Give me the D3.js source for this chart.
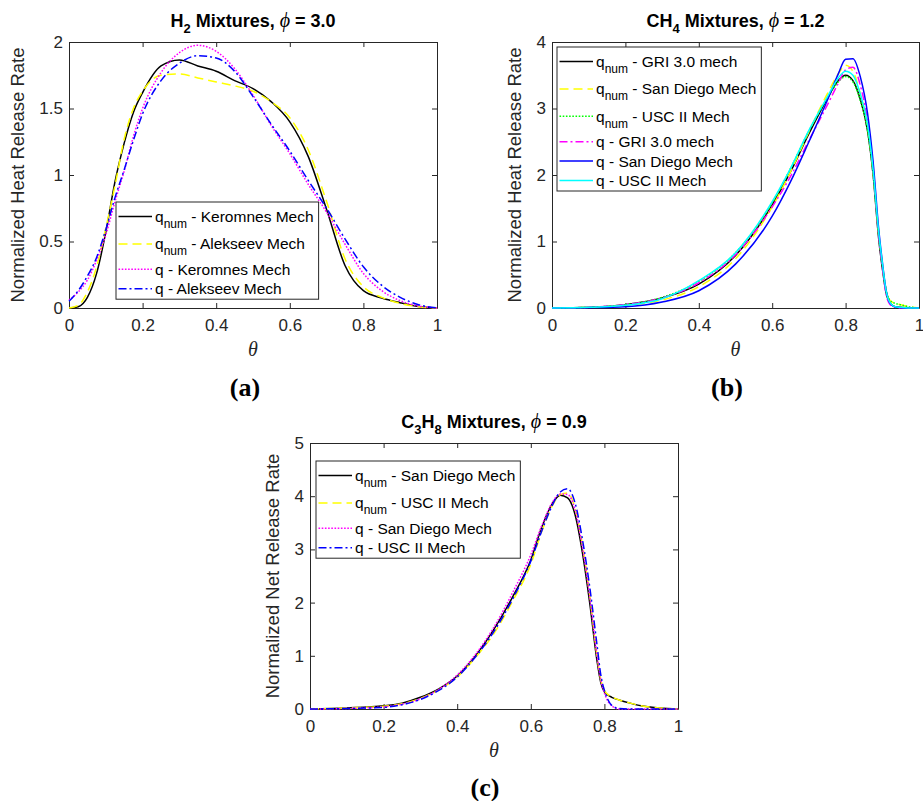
<!DOCTYPE html>
<html lang="en">
<head>
<meta charset="UTF-8">
<title>Normalized heat release rate profiles</title>
<script src="https://d3js.org/d3.v7.min.js"></script>
<style>
  body { margin: 0; background: #fff; }
  svg { display: block; font-family: "Liberation Sans", Arial, sans-serif; }
  .axis path, .axis line { stroke: #262626; stroke-width: 1; }
  .axis text { font-size: 17px; fill: #262626; font-family: "Liberation Sans", Arial, sans-serif; }
  .ylabel { font-size: 18.5px; fill: #262626; }
  .title { font-size: 18px; font-weight: bold; fill: #000; }
  .legend text { font-size: 15.5px; fill: #000; }
  .panel-tag { font-family: "Liberation Serif", "Times New Roman", serif; font-weight: bold; font-size: 26px; }
</style>
</head>
<body>
<svg id="chart" width="923" height="801"></svg>
<script>
// ---------------- data ----------------
const xTicks = [0, 0.2, 0.4, 0.6, 0.8, 1];

// (a) H2 mixtures, phi = 3.0
const thetaA = [0, 0.025, 0.05, 0.075, 0.1, 0.125, 0.15, 0.175, 0.2, 0.25, 0.3, 0.35, 0.4,
                0.45, 0.5, 0.55, 0.6, 0.65, 0.7, 0.75, 0.8, 0.85, 0.9, 0.95, 1];
const h2NumKeromnes = [0, 0.01, 0.08, 0.26, 0.57, 0.95, 1.24, 1.47, 1.62, 1.82, 1.865, 1.82, 1.78,
                       1.71, 1.65, 1.55, 1.40, 1.14, 0.74, 0.32, 0.13, 0.075, 0.04, 0.012, 0];
const h2NumAlekseev = [0, 0.02, 0.12, 0.31, 0.60, 0.92, 1.27, 1.50, 1.63, 1.75, 1.76, 1.73, 1.70,
                       1.67, 1.63, 1.55, 1.43, 1.19, 0.80, 0.37, 0.16, 0.08, 0.035, 0.01, 0];
const h2QKeromnes = [0.06, 0.12, 0.21, 0.36, 0.55, 0.80, 1.03, 1.29, 1.50, 1.77, 1.92, 1.975, 1.93,
                     1.80, 1.60, 1.37, 1.16, 0.93, 0.72, 0.48, 0.26, 0.13, 0.055, 0.015, 0];
const h2QAlekseev = [0.05, 0.13, 0.24, 0.38, 0.59, 0.83, 1.04, 1.26, 1.46, 1.71, 1.84, 1.897, 1.88,
                     1.78, 1.59, 1.38, 1.18, 0.96, 0.75, 0.52, 0.31, 0.17, 0.08, 0.025, 0];
const h2Labels = ["q_num - Keromnes Mech", "q_num - Alekseev Mech", "q - Keromnes Mech", "q - Alekseev Mech"];

// (b) CH4 mixtures, phi = 1.2
const thetaB = [0, 0.1, 0.2, 0.3, 0.4, 0.5, 0.6, 0.65, 0.7, 0.75, 0.78, 0.8, 0.82, 0.84,
                0.86, 0.875, 0.89, 0.9, 0.91, 0.92, 0.935, 0.95, 0.97, 1];
const ch4NumGri = [0, 0.01, 0.05, 0.15, 0.36, 0.79, 1.55, 2.05, 2.62, 3.15, 3.42, 3.50, 3.42, 3.14,
                   2.66, 2.0, 1.05, 0.60, 0.24, 0.08, 0.02, 0.01, 0.005, 0];
const ch4NumSanDiego = [0, 0.01, 0.04, 0.12, 0.32, 0.74, 1.52, 2.05, 2.65, 3.22, 3.52, 3.65, 3.56, 3.22,
                        2.72, 2.05, 1.12, 0.66, 0.28, 0.12, 0.07, 0.05, 0.02, 0];
const ch4NumUsc = [0, 0.01, 0.05, 0.16, 0.40, 0.83, 1.58, 2.10, 2.66, 3.15, 3.40, 3.48, 3.40, 3.12,
                   2.66, 2.02, 1.10, 0.65, 0.28, 0.12, 0.07, 0.05, 0.02, 0];
const ch4QGri = [0, 0.01, 0.05, 0.15, 0.38, 0.80, 1.52, 1.98, 2.52, 3.05, 3.38, 3.58, 3.62, 3.35,
                 2.80, 2.10, 1.10, 0.62, 0.22, 0.06, 0.01, 0, 0, 0];
const ch4QSanDiego = [0, 0.005, 0.02, 0.09, 0.26, 0.66, 1.38, 1.90, 2.50, 3.12, 3.52, 3.74, 3.75, 3.48,
                      2.92, 2.20, 1.20, 0.70, 0.28, 0.08, 0.015, 0.005, 0, 0];
const ch4QUsc = [0, 0.01, 0.04, 0.14, 0.41, 0.83, 1.60, 2.10, 2.67, 3.17, 3.46, 3.56, 3.50, 3.22,
                 2.75, 2.08, 1.15, 0.68, 0.27, 0.09, 0.02, 0.01, 0, 0];
const ch4Labels = ["q_num - GRI 3.0 mech", "q_num - San Diego Mech", "q_num - USC II Mech",
                   "q - GRI 3.0 mech", "q - San Diego Mech", "q - USC II Mech"];

// (c) C3H8 mixtures, phi = 0.9
const thetaC = [0, 0.1, 0.2, 0.25, 0.3, 0.35, 0.4, 0.45, 0.5, 0.55, 0.6, 0.63, 0.66, 0.68, 0.7,
                0.72, 0.74, 0.76, 0.78, 0.79, 0.8, 0.81, 0.82, 0.84, 0.87, 0.9, 0.95, 1];
const c3h8NumSanDiego = [0, 0.02, 0.06, 0.11, 0.22, 0.38, 0.62, 1.00, 1.50, 2.10, 2.80, 3.42, 3.88, 4.02, 3.97,
                         3.66, 2.95, 2.00, 0.90, 0.50, 0.32, 0.26, 0.22, 0.17, 0.11, 0.06, 0.02, 0];
const c3h8NumUsc = [0, 0.02, 0.05, 0.10, 0.20, 0.36, 0.60, 0.97, 1.42, 2.02, 2.72, 3.34, 3.84, 4.03, 4.06,
                    3.78, 3.10, 2.15, 1.00, 0.56, 0.35, 0.27, 0.23, 0.17, 0.11, 0.06, 0.02, 0];
const c3h8QSanDiego = [0, 0.01, 0.04, 0.09, 0.19, 0.37, 0.64, 1.03, 1.54, 2.18, 2.90, 3.45, 3.90, 4.04, 4.03,
                       3.75, 3.05, 2.12, 1.00, 0.55, 0.30, 0.14, 0.06, 0, 0, 0, 0, 0];
const c3h8QUsc = [0, 0.01, 0.03, 0.08, 0.18, 0.35, 0.60, 0.98, 1.46, 2.06, 2.78, 3.35, 3.85, 4.08, 4.14,
                  3.88, 3.20, 2.30, 1.20, 0.65, 0.35, 0.17, 0.07, 0.01, 0, 0, 0, 0];
const c3h8Labels = ["q_num - San Diego Mech", "q_num - USC II Mech", "q - San Diego Mech", "q - USC II Mech"];

// ---------------- styles ----------------
const SOLID = null, DASHED = "9,5", DOTTED = "1.6,1.6", DASHDOT = "8,3,2,3";

const svg = d3.select("#chart");
const fmt = d3.format("~g");

const panels = [
  {
    tag: "(a)", tagX: 245, tagY: 396,
    title: ["H", "2", " Mixtures, ", "3.0"],
    left: 69, right: 437, top: 42, bottom: 308,
    yMax: 2, yTicks: [0, 0.5, 1, 1.5, 2], yLabel: "Normalized Heat Release Rate", yLabelX: 18,
    legendX: 116, legendY: 202,
    theta: thetaA,
    series: [
      { values: h2NumKeromnes, label: h2Labels[0], color: "#000000", dash: SOLID },
      { values: h2NumAlekseev, label: h2Labels[1], color: "#ffff00", dash: DASHED },
      { values: h2QKeromnes, label: h2Labels[2], color: "#ff00ff", dash: DOTTED },
      { values: h2QAlekseev, label: h2Labels[3], color: "#0000ff", dash: DASHDOT }
    ]
  },
  {
    tag: "(b)", tagX: 727, tagY: 396,
    title: ["CH", "4", " Mixtures, ", "1.2"],
    left: 552, right: 919, top: 42, bottom: 308,
    yMax: 4, yTicks: [0, 1, 2, 3, 4], yLabel: "Normalized Heat Release Rate", yLabelX: 515,
    legendX: 557, legendY: 47,
    theta: thetaB,
    series: [
      { values: ch4NumGri, label: ch4Labels[0], color: "#000000", dash: SOLID },
      { values: ch4NumSanDiego, label: ch4Labels[1], color: "#ffff00", dash: DASHED },
      { values: ch4NumUsc, label: ch4Labels[2], color: "#00ff00", dash: DOTTED },
      { values: ch4QGri, label: ch4Labels[3], color: "#ff00ff", dash: DASHDOT },
      { values: ch4QSanDiego, label: ch4Labels[4], color: "#0000ff", dash: SOLID },
      { values: ch4QUsc, label: ch4Labels[5], color: "#00ffff", dash: SOLID }
    ]
  },
  {
    tag: "(c)", tagX: 485, tagY: 796,
    title: ["C", "3", "H", "8", " Mixtures, ", "0.9"],
    left: 310, right: 678, top: 443, bottom: 709,
    yMax: 5, yTicks: [0, 1, 2, 3, 4, 5], yLabel: "Normalized Net Release Rate", yLabelX: 273,
    legendX: 316, legendY: 461,
    theta: thetaC,
    series: [
      { values: c3h8NumSanDiego, label: c3h8Labels[0], color: "#000000", dash: SOLID },
      { values: c3h8NumUsc, label: c3h8Labels[1], color: "#ffff00", dash: DASHED },
      { values: c3h8QSanDiego, label: c3h8Labels[2], color: "#ff00ff", dash: DOTTED },
      { values: c3h8QUsc, label: c3h8Labels[3], color: "#0000ff", dash: DASHDOT }
    ]
  }
];

panels.forEach(drawPanel);

function drawPanel(p) {
  const g = svg.append("g");
  const x = d3.scaleLinear().domain([0, 1]).range([p.left, p.right]);
  const y = d3.scaleLinear().domain([0, p.yMax]).range([p.bottom, p.top]);

  // axes box, ticks pointing inward on all four sides
  g.append("g").attr("class", "axis").attr("transform", `translate(0,${p.bottom})`)
    .call(d3.axisBottom(x).tickValues(xTicks).tickFormat(fmt).tickSizeInner(-5).tickSizeOuter(0).tickPadding(11));
  g.append("g").attr("class", "axis").attr("transform", `translate(0,${p.top})`)
    .call(d3.axisTop(x).tickValues(xTicks).tickFormat("").tickSizeInner(-5).tickSizeOuter(0));
  g.append("g").attr("class", "axis").attr("transform", `translate(${p.left},0)`)
    .call(d3.axisLeft(y).tickValues(p.yTicks).tickFormat(fmt).tickSizeInner(-5).tickSizeOuter(0).tickPadding(6));
  g.append("g").attr("class", "axis").attr("transform", `translate(${p.right},0)`)
    .call(d3.axisRight(y).tickValues(p.yTicks).tickFormat("").tickSizeInner(-5).tickSizeOuter(0));
  g.selectAll(".axis .domain").attr("stroke", "#262626");

  // curves
  const line = d3.line()
    .x((d, i) => x(p.theta[i]))
    .y(d => y(d))
    .curve(d3.curveMonotoneX);

  p.series.forEach(s => {
    g.append("path")
      .datum(s.values)
      .attr("d", line)
      .attr("fill", "none")
      .attr("stroke", s.color)
      .attr("stroke-width", 1.5)
      .attr("stroke-dasharray", s.dash);
  });

  // title with subscripts
  const title = g.append("text").attr("class", "title")
    .attr("x", (p.left + p.right) / 2)
    .attr("y", p.top - 15)
    .attr("text-anchor", "middle");
  const parts = p.title;
  for (let i = 0; i < parts.length - 1; i++) {
    const isSub = /^\d$/.test(parts[i]);
    const prevSub = i > 0 && /^\d$/.test(parts[i - 1]);
    const t = title.append("tspan").text(parts[i]);
    if (isSub) t.attr("dy", 6).style("font-size", "13px");
    else if (prevSub) t.attr("dy", -6);
  }
  title.append("tspan")
    .style("font-family", "'Liberation Serif', serif").style("font-style", "italic").style("font-weight", "normal")
    .style("font-size", "20px")
    .text("\u03d5");
  title.append("tspan").text(" = " + parts[parts.length - 1]);

  // axis labels
  g.append("text").attr("class", "ylabel")
    .attr("transform", `translate(${p.yLabelX},${(p.top + p.bottom) / 2}) rotate(-90)`)
    .attr("text-anchor", "middle").attr("dy", "0.35em")
    .text(p.yLabel);
  g.append("text")
    .attr("x", (p.left + p.right) / 2).attr("y", p.bottom + 48)
    .attr("text-anchor", "middle")
    .style("font-family", "'Liberation Serif', serif").style("font-style", "italic").style("font-size", "20px")
    .attr("fill", "#262626")
    .text("\u03b8");

  // panel tag
  g.append("text").attr("class", "panel-tag")
    .attr("x", p.tagX).attr("y", p.tagY).attr("text-anchor", "middle")
    .text(p.tag);

  // legend
  const lg = g.append("g").attr("class", "legend");
  const box = lg.append("rect").attr("fill", "#fff").attr("stroke", "#262626").attr("stroke-width", 1);
  let cy = p.legendY + 14.5;
  let maxEnd = 0;
  p.series.forEach((s, i) => {
    const hasSub = s.label.startsWith("q_num");
    if (i > 0) {
      const prevSub = p.series[i - 1].label.startsWith("q_num");
      cy += prevSub ? (hasSub ? 27.4 : 25.4) : 19.4;
    }
    lg.append("line")
      .attr("x1", p.legendX + 2.5).attr("x2", p.legendX + 36)
      .attr("y1", cy).attr("y2", cy)
      .attr("stroke", s.color).attr("stroke-width", 1.5)
      .attr("stroke-dasharray", s.dash);
    const t = lg.append("text").attr("x", p.legendX + 39).attr("y", cy + 5.5);
    if (hasSub) {
      t.append("tspan").text("q");
      t.append("tspan").attr("dy", 6).style("font-size", "12px").text("num");
      t.append("tspan").attr("dy", -6).text(s.label.slice(5));
    } else {
      t.text(s.label);
    }
    maxEnd = Math.max(maxEnd, p.legendX + 39 + t.node().getComputedTextLength());
  });
  box.attr("x", p.legendX).attr("y", p.legendY)
    .attr("width", maxEnd + 5 - p.legendX)
    .attr("height", cy + 10.5 - p.legendY);
}
</script>
</body>
</html>
